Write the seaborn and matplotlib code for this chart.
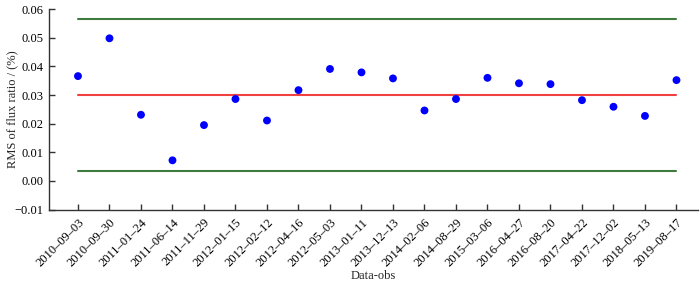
import numpy as np
import pandas as pd
import matplotlib
matplotlib.use("Agg")
import matplotlib.pyplot as plt
import seaborn as sns

dates = ["2010-09-03", "2010-09-30", "2011-01-24", "2011-06-14", "2011-11-29",
         "2012-01-15", "2012-02-12", "2012-04-16", "2012-05-03", "2013-01-11",
         "2013-12-13", "2014-02-06", "2014-08-29", "2015-03-06", "2016-04-27",
         "2016-08-20", "2017-04-22", "2017-12-02", "2018-05-13", "2019-08-17"]
rms = [0.0366, 0.0498, 0.0231, 0.0072, 0.0195, 0.0286, 0.0211, 0.0317, 0.0391, 0.0379,
       0.0358, 0.0246, 0.0286, 0.0360, 0.0341, 0.0338, 0.0282, 0.0259, 0.0227, 0.0352]
mean_level = 0.0300
upper_level = 0.0566
lower_level = 0.0034

df = pd.DataFrame({"date": dates, "rms": rms})
df["idx"] = np.arange(len(df))

sns.set_style("ticks")
plt.rcParams["font.family"] = ["Liberation Serif", "DejaVu Serif"]

fig, ax = plt.subplots(figsize=(7, 2.84), dpi=100)
fig.subplots_adjust(left=0.07, right=0.997, top=0.968, bottom=0.262)

# mean line and the two limit lines
x0, x1 = df["idx"].iloc[0], df["idx"].iloc[-1]
ax.plot([x0, x1], [upper_level, upper_level], color="#3f7a3f", lw=1.5)
ax.plot([x0, x1], [lower_level, lower_level], color="#3f7a3f", lw=1.5)
ax.plot([x0, x1], [mean_level, mean_level], color="#f04040", lw=1.5)

sns.scatterplot(data=df, x="idx", y="rms", color="#0000ff", s=32,
                edgecolor="none", ax=ax, zorder=3)

ax.set_xlim(-0.92, 19.68)
ax.set_ylim(-0.01, 0.06)
ax.set_yticks(np.arange(-0.01, 0.0601, 0.01))
ax.set_yticklabels(["\u22120.01"] + [f"{v:.2f}" for v in np.arange(0, 0.0601, 0.01)])
ax.set_xticks(df["idx"])
ax.set_xticklabels([d.replace("-", "\u2013") for d in df["date"]],
                   rotation=45, ha="right", rotation_mode="anchor")
ax.tick_params(direction="in", length=4, width=1, colors="#333333", labelsize=9,
               labelcolor="black")
ax.tick_params(axis="x", pad=5)
ax.tick_params(axis="y", pad=4)
ax.set_xlabel("Data-obs", fontsize=9)
ax.set_ylabel("RMS of flux ratio / (%)", fontsize=9)
ax.xaxis.set_label_coords(0.5, -0.33)
ax.yaxis.set_label_coords(-0.057, 0.5)
ax.xaxis.label.set_va("center")
ax.yaxis.label.set_va("center")
for s in ["top", "right"]:
    ax.spines[s].set_visible(False)
for s in ["left", "bottom"]:
    ax.spines[s].set_color("#333333")
    ax.spines[s].set_linewidth(1)

fig.savefig("out.png", dpi=100)
